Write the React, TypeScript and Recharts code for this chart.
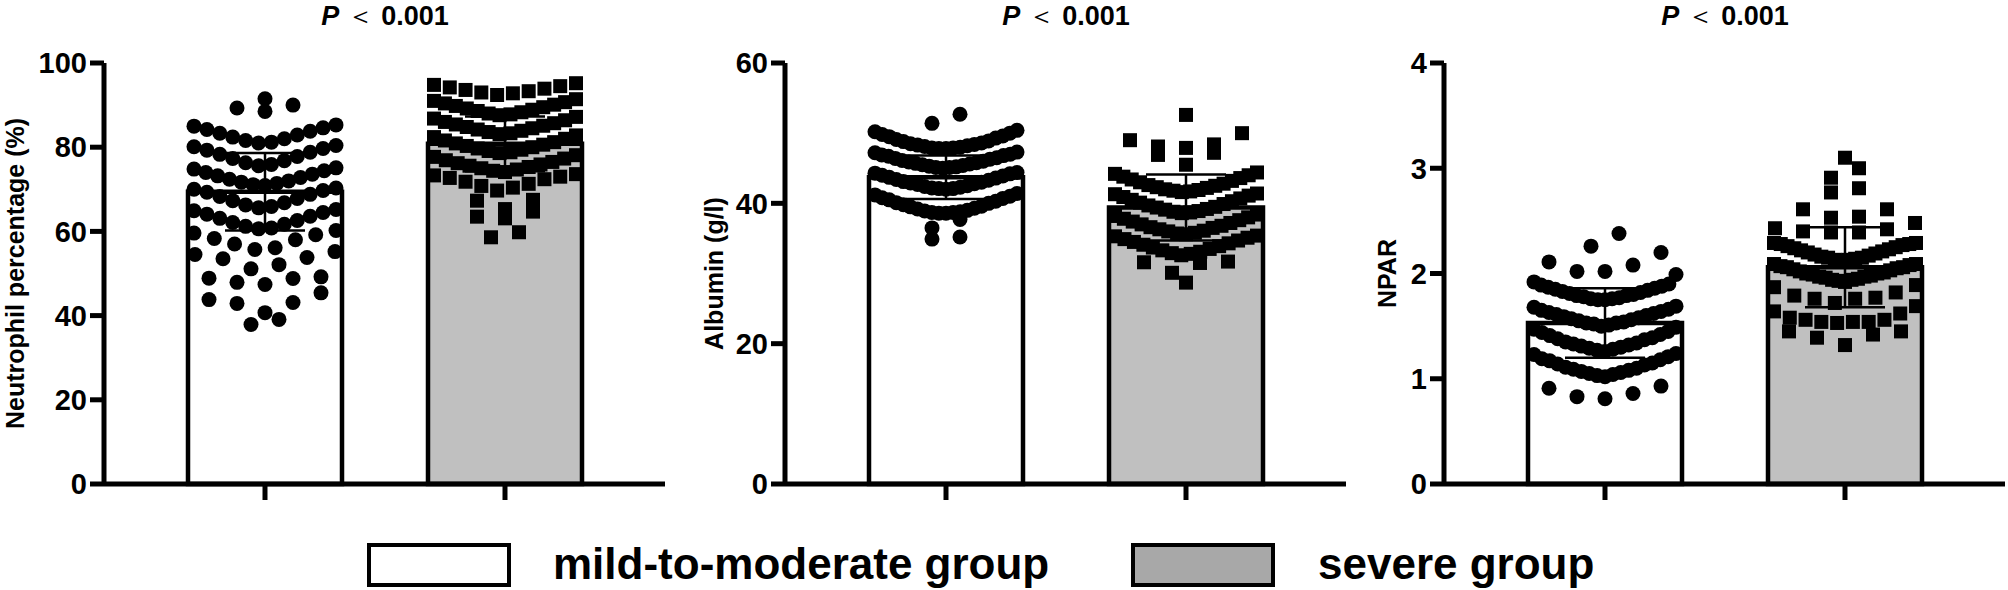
import React from "react";
import { ComposedChart, Bar, Cell, Scatter, ErrorBar, XAxis, YAxis } from "recharts";

const FONT = "'Liberation Sans', Arial, Helvetica, sans-serif";

const groups = ["mild-to-moderate group", "severe group"];
const pText = "0.001";

// Neutrophil percentage (%)
const neutMild = [
  91.5, 88.5, 89.3, 90.0,
  81.0, 81.2, 81.6, 82.0, 82.4, 82.9, 83.3, 83.8, 84.2, 84.6, 85.0, 85.3,
  75.6, 75.9, 76.3, 76.8, 77.3, 77.8, 78.3, 78.8, 79.3, 79.7, 80.1, 80.4,
  70.9, 71.1, 71.4, 71.7, 72.0, 72.4, 72.8, 73.2, 73.6, 74.0, 74.4, 74.8, 75.1,
  65.6, 65.9, 66.3, 66.8, 67.3, 67.8, 68.3, 68.8, 69.3, 69.7, 70.0, 70.3,
  60.6, 60.8, 61.2, 61.7, 62.1, 62.6, 63.1, 63.6, 64.1, 64.5, 64.9, 65.2,
  55.7, 56.1, 57.0, 58.0, 58.3, 59.2, 59.6, 60.2,
  51.1, 52.1, 53.5, 53.8, 54.5, 55.2,
  47.4, 47.9, 48.8, 48.9, 49.2,
  40.7, 42.9, 43.1, 43.8, 45.4,
  37.9, 39.1,
];
const neutSevere = [
  92.4, 92.8, 93.0, 93.3, 93.6, 93.9, 94.2, 94.5, 94.8, 95.2,
  87.6, 87.8, 88.0, 88.3, 88.6, 88.9, 89.2, 89.5, 89.8, 90.1, 90.4, 90.7, 91.0, 91.4,
  83.1, 83.3, 83.6, 83.9, 84.2, 84.5, 84.8, 85.1, 85.4, 85.7, 86.0, 86.4, 86.8, 87.2,
  78.6, 78.8, 79.1, 79.4, 79.7, 80.0, 80.3, 80.6, 80.9, 81.2, 81.6, 82.0, 82.4, 82.8,
  74.1, 74.4, 74.7, 75.0, 75.3, 75.6, 75.9, 76.2, 76.5, 76.9, 77.3, 77.7, 78.1,
  69.7, 70.4, 70.8, 71.3, 71.8, 72.4, 72.7, 73.0, 73.3, 73.6,
  65.3, 67.3, 67.5,
  63.1, 63.5, 64.7,
  58.6, 59.8,
];
const neutMean = [69.4, 80.8];
const neutSd = [9.2, 6.5];
const neutTicks = [0, 20, 40, 60, 80, 100];

// Albumin (g/l)
const albMild = [
  51.4, 52.7,
  47.8, 47.8, 47.9, 47.9, 48.0, 48.1, 48.2, 48.3, 48.4, 48.5, 48.6, 48.8, 48.9, 49.1, 49.3, 49.5, 49.6, 49.8, 50.0, 50.2, 50.4,
  45.0, 45.1, 45.1, 45.2, 45.3, 45.4, 45.5, 45.6, 45.7, 45.8, 45.9, 46.0, 46.1, 46.3, 46.4, 46.5, 46.7, 46.8, 46.9, 47.0, 47.2, 47.3,
  42.0, 42.1, 42.1, 42.2, 42.3, 42.4, 42.5, 42.7, 42.8, 42.9, 43.0, 43.1, 43.3, 43.4, 43.6, 43.7, 43.9, 44.0, 44.2, 44.3, 44.4,
  38.6, 38.6, 38.7, 38.7, 38.8, 38.9, 39.0, 39.2, 39.3, 39.5, 39.6, 39.8, 40.0, 40.1, 40.3, 40.5, 40.7, 40.8, 41.0, 41.2, 41.4,
  36.5, 37.7, 34.9, 35.2,
];
const albSevere = [
  52.6, 50.0, 49.0, 48.1, 48.4, 47.9, 47.2, 46.9, 45.5,
  41.6, 41.7, 41.8, 41.9, 42.0, 42.2, 42.3, 42.5, 42.6, 42.8, 43.0, 43.2, 43.4, 43.6, 43.8, 44.0, 44.2, 44.4,
  38.6, 38.7, 38.8, 38.9, 39.1, 39.2, 39.4, 39.5, 39.7, 39.9, 40.1, 40.3, 40.5, 40.7, 40.9, 41.1, 41.3, 41.4,
  35.6, 35.7, 35.8, 36.0, 36.1, 36.3, 36.5, 36.6, 36.8, 37.0, 37.2, 37.4, 37.6, 37.8, 38.0, 38.2, 38.4,
  32.6, 32.8, 32.9, 33.1, 33.3, 33.5, 33.7, 33.9, 34.1, 34.3, 34.5, 34.7, 34.9, 35.1, 35.3, 35.4,
  31.7, 31.5, 28.7, 30.1, 31.6,
];
const albMean = [43.7, 39.4];
const albSd = [3.1, 4.7];
const albTicks = [0, 20, 40, 60];

// NPAR
const nparMild = [
  2.38, 2.20, 2.26, 2.08, 2.02, 1.92, 1.99, 2.02, 2.11,
  1.75, 1.75, 1.76, 1.76, 1.77, 1.78, 1.79, 1.79, 1.80, 1.81, 1.82, 1.83, 1.84, 1.85, 1.86, 1.87, 1.88, 1.89, 1.90,
  1.50, 1.51, 1.52, 1.53, 1.53, 1.54, 1.55, 1.56, 1.57, 1.58, 1.59, 1.60, 1.61, 1.62, 1.63, 1.64, 1.65, 1.66, 1.68, 1.69,
  1.26, 1.27, 1.28, 1.29, 1.30, 1.31, 1.32, 1.33, 1.34, 1.35, 1.37, 1.38, 1.39, 1.41, 1.42, 1.44, 1.45, 1.47, 1.49,
  1.02, 1.03, 1.04, 1.05, 1.06, 1.07, 1.08, 1.09, 1.10, 1.11, 1.13, 1.14, 1.15, 1.17, 1.18, 1.19, 1.21, 1.23, 1.24,
  0.93, 0.86, 0.81, 0.83, 0.91,
];
const nparSevere = [
  3.10, 3.00, 2.91, 2.77, 2.81, 2.61, 2.61, 2.53, 2.54, 2.43, 2.48, 2.40, 2.39, 2.39, 2.42,
  2.12, 2.13, 2.13, 2.14, 2.15, 2.15, 2.16, 2.17, 2.18, 2.19, 2.20, 2.21, 2.22, 2.23, 2.24, 2.25, 2.26, 2.27, 2.28, 2.28, 2.29, 2.29,
  1.92, 1.93, 1.94, 1.94, 1.95, 1.96, 1.97, 1.97, 1.98, 1.99, 2.00, 2.00, 2.01, 2.02, 2.03, 2.04, 2.05, 2.06, 2.06, 2.07, 2.08, 2.09, 2.09,
  1.89, 1.82, 1.77, 1.76, 1.76, 1.79, 1.87, 1.72,
  1.64, 1.58, 1.56, 1.56, 1.62, 1.69, 1.54, 1.53, 1.54, 1.54,
  1.45, 1.42, 1.32, 1.39, 1.45,
];
const nparMean = [1.53, 2.06];
const nparSd = [0.33, 0.38];
const nparTicks = [0, 1, 2, 3, 4];

// layout of one panel (px)
const CHART_W = 680;
const CHART_H = 590;
const AXIS_X = 104;
const PLOT_TOP = 63;
const PLOT_BOTTOM = 484;
const PLOT_W = 561;
const PX_PER_X = 240;
const FIRST_TICK = 161;
const X_DOMAIN = [-FIRST_TICK / PX_PER_X, (PLOT_W - FIRST_TICK) / PX_PER_X];
const PAD_LEFT = FIRST_TICK - PX_PER_X / 2;
const PAD_RIGHT = PLOT_W - PAD_LEFT - 2 * PX_PER_X;
const MAX_HALF = 71;
const SPARSE_GAP = 28;
const DOT = 15;
const SQ = 14;

const panels = [
  {
    left: 0, title: "Neutrophil percentage (%)", labelX: 15, max: 100, ticks: neutTicks,
    mild: neutMild, severe: neutSevere, mean: neutMean, sd: neutSd,
    bins: [[5, 80.5], [4.5, 83]],
  },
  {
    left: 681, title: "Albumin (g/l)", labelX: 33, max: 60, ticks: albTicks,
    mild: albMild, severe: albSevere, mean: albMean, sd: albSd,
    bins: [[3, 41.5], [3, 41.5]],
  },
  {
    left: 1340, title: "NPAR", labelX: 47, max: 4, ticks: nparTicks,
    mild: nparMild, severe: nparSevere, mean: nparMean, sd: nparSd,
    bins: [[0.25, 1.0], [0.2, 1.9]],
  },
];

// Prism-like scatter: values binned into rows, lowest value in the middle
function swarm(values: number[], center: number, size: number, anchor: number) {
  const rows = new Map<number, number[]>();
  values.forEach((v) => {
    const k = Math.floor((v - anchor) / size + 1e-9);
    if (!rows.has(k)) rows.set(k, []);
    rows.get(k)!.push(v);
  });
  const pts: { x: number; v: number }[] = [];
  rows.forEach((list) => {
    list.sort((a, b) => a - b);
    const n = list.length;
    const step = n > 1 ? Math.min(SPARSE_GAP, (2 * MAX_HALF) / (n - 1)) : 0;
    const slots = list.map((_, i) => i - (n - 1) / 2);
    slots.sort((a, b) => Math.abs(a) - Math.abs(b) || a - b);
    list.forEach((v, i) => pts.push({ x: center + (slots[i] * step) / PX_PER_X, v }));
  });
  return pts;
}

const Circle = (props: any) => <circle cx={props.cx} cy={props.cy} r={DOT / 2} fill="#000" />;
const Square = (props: any) => (
  <rect x={props.cx - SQ / 2} y={props.cy - SQ / 2} width={SQ} height={SQ} fill="#000" />
);
const Nothing = () => <g />;

function AxisTitle({ text, posX }: { text: string; posX: number }) {
  const cy = (PLOT_TOP + PLOT_BOTTOM) / 2;
  return (
    <text
      x={posX}
      y={cy}
      transform={`rotate(-90 ${posX} ${cy})`}
      textAnchor="middle"
      dominantBaseline="central"
      fontFamily={FONT}
      fontWeight={700}
      fontSize={25}
      fill="#000"
    >
      {text}
    </text>
  );
}

function Panel({ p }: { p: (typeof panels)[number] }) {
  const barData = [0, 1].map((i) => ({ name: groups[i], mean: p.mean[i], sd: p.sd[i] }));
  const mildPts = swarm(p.mild, 0, p.bins[0][0], p.bins[0][1]);
  const severePts = swarm(p.severe, 1, p.bins[1][0], p.bins[1][1]);
  const errData = [0, 1].map((i) => ({ x: i, v: p.mean[i], sd: p.sd[i] }));
  const axisStyle = { stroke: "#000", strokeWidth: 5 };

  return (
    <div style={{ position: "absolute", left: p.left, top: 0 }}>
      <ComposedChart
        width={CHART_W}
        height={CHART_H}
        data={barData}
        margin={{ top: PLOT_TOP, right: CHART_W - AXIS_X - PLOT_W, bottom: CHART_H - PLOT_BOTTOM - 30, left: 0 }}
      >
        <XAxis
          xAxisId="cat"
          dataKey="name"
          padding={{ left: PAD_LEFT, right: PAD_RIGHT }}
          tickFormatter={() => ""}
          tickSize={16}
          height={30}
          axisLine={axisStyle}
          tickLine={axisStyle}
        />
        <XAxis xAxisId="num" type="number" dataKey="x" domain={X_DOMAIN} hide allowDataOverflow />
        <YAxis
          type="number"
          domain={[0, p.max]}
          ticks={p.ticks}
          interval={0}
          width={AXIS_X}
          tickSize={14}
          tickMargin={3}
          axisLine={axisStyle}
          tickLine={axisStyle}
          tick={{ fill: "#000", fontSize: 29, fontWeight: 700, fontFamily: FONT }}
          label={<AxisTitle text={p.title} posX={p.labelX} />}
        />
        <Bar xAxisId="cat" dataKey="mean" barSize={154} stroke="#000" strokeWidth={4.5} isAnimationActive={false}>
          {barData.map((d, i) => (
            <Cell key={d.name} fill={i === 0 ? "#ffffff" : "#c0c0c0"} />
          ))}
        </Bar>
        <Scatter xAxisId="num" data={mildPts} dataKey="v" shape={Circle} isAnimationActive={false} />
        <Scatter xAxisId="num" data={severePts} dataKey="v" shape={Square} isAnimationActive={false} />
        <Scatter xAxisId="num" data={errData} dataKey="v" shape={Nothing} isAnimationActive={false}>
          <ErrorBar dataKey="sd" direction="y" width={40} stroke="#000" strokeWidth={2.5} />
        </Scatter>
      </ComposedChart>
      <div
        style={{
          position: "absolute",
          left: AXIS_X + FIRST_TICK + PX_PER_X / 2 - 120,
          top: 1,
          width: 240,
          textAlign: "center",
          fontFamily: FONT,
          fontWeight: 700,
          fontSize: 27,
          lineHeight: "30px",
        }}
      >
        <i>P</i>
        <span style={{ fontWeight: 400 }}> ＜ </span>
        {pText}
      </div>
    </div>
  );
}

function LegendItem({ left, textLeft, fill, label }: { left: number; textLeft: number; fill: string; label: string }) {
  return (
    <>
      <div
        style={{
          position: "absolute",
          left,
          top: 543,
          width: 144,
          height: 44,
          boxSizing: "border-box",
          border: "4px solid #000",
          background: fill,
        }}
      />
      <div
        style={{
          position: "absolute",
          left: textLeft,
          top: 539,
          lineHeight: "50px",
          fontFamily: FONT,
          fontWeight: 700,
          fontSize: 44,
          whiteSpace: "nowrap",
        }}
      >
        {label}
      </div>
    </>
  );
}

export default function App() {
  return (
    <div style={{ position: "absolute", left: 0, top: 0, width: 2008, height: 590, background: "#fff", overflow: "hidden" }}>
      {panels.map((p) => (
        <Panel key={p.title} p={p} />
      ))}
      <LegendItem left={367} textLeft={553} fill="#ffffff" label={groups[0]} />
      <LegendItem left={1131} textLeft={1318} fill="#a8a8a8" label={groups[1]} />
    </div>
  );
}
